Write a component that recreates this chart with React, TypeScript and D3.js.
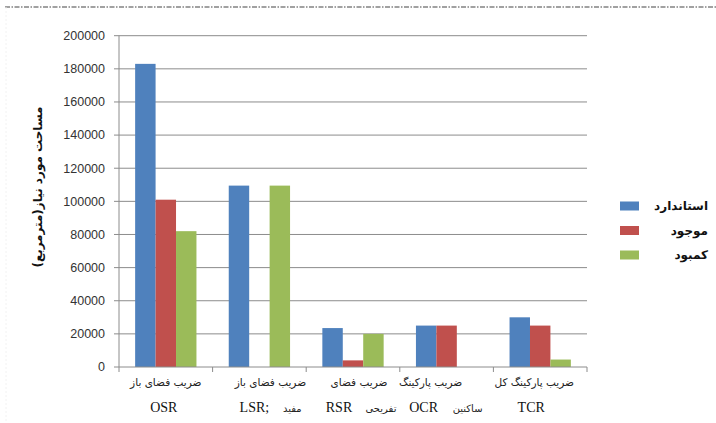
import React from "react";
import * as d3 from "d3";

const categories = ["OSR", "LSR", "RSR", "OCR", "TCR"];
const seriesNames = ["استاندارد", "موجود", "کمبود"];
const seriesColors = ["#4F81BD", "#C0504D", "#9BBB59"];
const standard = [183000, 109500, 23500, 25000, 30000];
const existing = [101000, 0, 4000, 25000, 25000];
const shortage = [82000, 109500, 20000, 0, 4500];
const yTicks = [0, 20000, 40000, 60000, 80000, 100000, 120000, 140000, 160000, 180000, 200000];
const yTitle = "مساحت مورد نیاز(مترمربع)";
const labelLine1 = ["ضریب فضای باز", "ضریب فضای باز", "ضریب فضای", "ضریب پارکینگ", "ضریب پارکینگ کل"];
const labelLine1Dx = [0, 11, 6, -16, -6];
const labelLatin = ["OSR", "LSR;", "RSR", "OCR", "TCR"];
const labelLatinDx = [-2, -5, -14, -23, -9];
const labelPersian2 = ["", "مفید", "تفریحی", "ساکنین", ""];
const labelPersian2Dx = [0, 33, 28, 21, 0];

export default function App() {
  const W = 716, H = 423;
  const left = 119, right = 587, top = 35.7, bottom = 367;
  const x = d3.scaleBand().domain(categories).range([left, right]).paddingInner(0).paddingOuter(0);
  const y = d3.scaleLinear().domain([0, 200000]).range([bottom, top]);
  const groupW = x.bandwidth() * 0.655;
  const inner = d3.scaleBand().domain(seriesNames).range([0, groupW]);
  const data = [standard, existing, shortage];
  const gridColor = "#8c8c8c";
  const persianFont = "'DejaVu Sans', sans-serif";
  return (
    <svg width={W} height={H} style={{ display: "block", position: "absolute", left: 0, top: 0 }}>
      <rect width={W} height={H} fill="#fff" />
      <line x1={5} x2={716} y1={7} y2={7} stroke="#444" strokeWidth={1.2} strokeDasharray="5,1.5,1.5,1.5" />
      <line x1={6} x2={6} y1={7} y2={423} stroke="#f2f2f2" strokeWidth={1} strokeDasharray="2,2" />
      {yTicks.map((t) => (
        <g key={t}>
          {t > 0 && <line x1={left} x2={right} y1={y(t)} y2={y(t)} stroke={gridColor} strokeWidth={1} />}
          <line x1={left - 5} x2={left} y1={y(t)} y2={y(t)} stroke={gridColor} />
          <text x={105} y={y(t)} dy="0.35em" textAnchor="end" fontFamily="'Liberation Sans', Arial, sans-serif" fontSize={12.5} fill="#333">{t}</text>
        </g>
      ))}
      {data.map((vals, si) =>
        categories.map((c, ci) => {
          const v = vals[ci];
          if (!v) return null;
          const bx = (x(c) as number) + (x.bandwidth() - groupW) / 2 + (inner(seriesNames[si]) as number);
          return <rect key={si + "-" + c} x={bx} y={y(v)} width={inner.bandwidth()} height={bottom - y(v)} fill={seriesColors[si]} />;
        })
      )}
      <line x1={left} x2={left} y1={top} y2={bottom} stroke={gridColor} />
      <line x1={left} x2={right} y1={bottom} y2={bottom} stroke={gridColor} />
      {[...categories.map((c) => x(c) as number), right].map((tx, i) => (
        <line key={i} x1={tx} x2={tx} y1={bottom} y2={bottom + 5} stroke={gridColor} />
      ))}
      {categories.map((c, i) => {
        const cx = (x(c) as number) + x.bandwidth() / 2;
        return (
          <g key={c}>
            <text x={cx + labelLine1Dx[i]} y={386} textAnchor="middle" direction="rtl" fontFamily={persianFont} fontSize={10.5} fill="#222">{labelLine1[i]}</text>
            <text x={cx + labelLatinDx[i]} y={412} textAnchor="middle" fontFamily="'Liberation Serif', 'Times New Roman', serif" fontSize={14} fill="#111">{labelLatin[i]}</text>
            {labelPersian2[i] && (
              <text x={cx + labelPersian2Dx[i]} y={412} textAnchor="middle" direction="rtl" fontFamily={persianFont} fontSize={10} fill="#222">{labelPersian2[i]}</text>
            )}
          </g>
        );
      })}
      <text transform={`translate(42,187) rotate(-90)`} textAnchor="middle" direction="rtl" fontFamily={persianFont} fontWeight="bold" fontSize={12} fill="#111">{yTitle}</text>
      {seriesNames.map((s, i) => (
        <g key={s}>
          <rect x={620} y={201.5 + i * 24.5} width={19} height={9} fill={seriesColors[i]} />
          <text x={708} y={206 + i * 24.5} dy="0.35em" textAnchor="start" direction="rtl" fontFamily={persianFont} fontWeight="bold" fontSize={12} fill="#111">{s}</text>
        </g>
      ))}
    </svg>
  );
}
